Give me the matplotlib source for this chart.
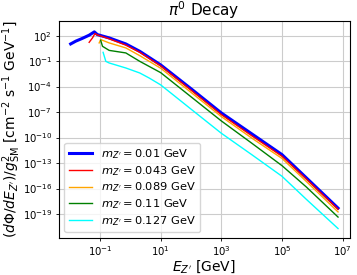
import numpy as np
import matplotlib
matplotlib.use("Agg")
import matplotlib.pyplot as plt
from matplotlib.ticker import NullLocator

# log10(E / GeV) and log10(flux)
masses = ["0.01", "0.043", "0.089", "0.11", "0.127"]
colors = ["blue", "red", "orange", "green", "cyan"]

logE_01 = [-1.97, -1.80, -1.60, -1.36, -1.19, -1.09, -0.70, -0.15, 0.31, 1.0, 2.0, 3.0, 4.0, 5.0, 5.8, 6.85]
logF_01 = [1.02, 1.35, 1.65, 2.05, 2.44, 2.12, 1.73, 1.02, 0.15, -1.45, -4.25, -7.1, -9.55, -12.0, -14.72, -18.3]

logE_043 = [-1.36, -1.25, -1.17, -1.09, -0.70, -0.15, 0.31, 1.0, 2.0, 3.0, 4.0, 5.0, 5.8, 6.85]
logF_043 = [1.21, 1.73, 2.24, 2.08, 1.62, 0.88, 0.03, -1.57, -4.42, -7.3, -9.78, -12.2, -14.87, -18.43]

logE_089 = [-1.03, -0.98, -0.70, -0.15, 0.31, 1.0, 2.0, 3.0, 4.0, 5.0, 5.8, 6.85]
logF_089 = [1.14, 1.53, 1.14, 0.55, -0.36, -1.84, -4.68, -7.53, -10.05, -12.45, -15.15, -18.75]

logE_11 = [-0.98, -0.92, -0.70, -0.15, 0.31, 1.0, 2.0, 3.0, 4.0, 5.0, 5.8, 6.85]
logF_11 = [1.45, 0.74, 0.26, -0.04, -1.03, -2.36, -5.2, -8.04, -10.65, -13.3, -15.8, -19.35]

logE_127 = [-0.90, -0.81, -0.70, -0.15, 0.31, 0.62, 1.0, 2.0, 3.0, 4.0, 5.0, 5.8, 6.85]
logF_127 = [0.03, -1.03, -1.22, -1.81, -2.40, -2.99, -3.8, -6.65, -9.49, -12.0, -14.55, -17.25, -20.7]

series = [(logE_01, logF_01), (logE_043, logF_043), (logE_089, logF_089),
          (logE_11, logF_11), (logE_127, logF_127)]

xticks = [1e-1, 1e1, 1e3, 1e5, 1e7]
yticks = [1e2, 1e-1, 1e-4, 1e-7, 1e-10, 1e-13, 1e-16, 1e-19]

fig = plt.figure(figsize=(3.57, 2.75), dpi=100)
ax = fig.add_axes([0.164, 0.135, 0.816, 0.789])

for i, (le, lf) in enumerate(series):
    lw = 2.2 if i == 0 else 1.0
    ax.plot(10.0 ** np.array(le), 10.0 ** np.array(lf), color=colors[i], lw=lw,
            label=r"$m_{Z'} = %s$ GeV" % masses[i])

ax.set_xscale("log")
ax.set_yscale("log")
ax.set_xlim(10 ** -2.37, 10 ** 7.24)
ax.set_ylim(10 ** -21.8, 10 ** 3.73)
ax.set_xticks(xticks)
ax.set_yticks(yticks)
ax.xaxis.set_minor_locator(NullLocator())
ax.yaxis.set_minor_locator(NullLocator())
ax.tick_params(labelsize=7.3, length=2.5, width=0.6, pad=2)
ax.grid(True, color="#cccccc", lw=0.8)
for s in ax.spines.values():
    s.set_linewidth(0.8)

ax.set_xlabel(r"$E_{Z'}$ [GeV]", fontsize=10, labelpad=0)
ax.set_ylabel(r"$(d\Phi/dE_{Z'})/g^2_{\rm SM}$ [cm$^{-2}$ s$^{-1}$ GeV$^{-1}$]",
              fontsize=10, labelpad=0)
ax.set_title(r"$\pi^0$ Decay", fontsize=11, pad=2)
ax.legend(loc="lower left", fontsize=8.2, handlelength=2.0, borderpad=0.4,
          labelspacing=0.25)

fig.savefig("out.png", dpi=100)
